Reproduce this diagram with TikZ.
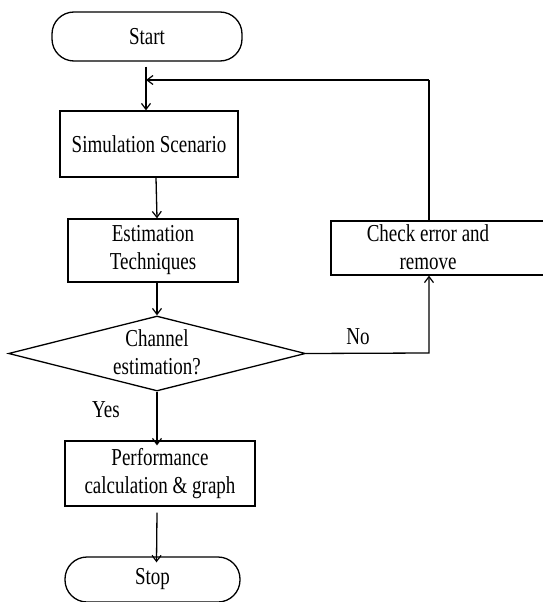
\documentclass[tikz,border=0pt]{standalone}
\usepackage{fontspec}
\setmainfont{Liberation Serif}
\usetikzlibrary{arrows.meta,shapes.geometric}
\newcommand\stt[1]{\scalebox{1}[1.28]{#1}}
\tikzset{
  x=1pt, y=-1pt,
  every node/.style={font=\fontsize{19}{28}\selectfont, align=center, inner sep=0pt},
  boxnode/.style={draw, line width=1.3pt, rectangle},
  term/.style={draw, line width=1.3pt, rectangle, rounded corners=22pt},
  conn/.style={line width=1.3pt, -{Straight Barb[length=6pt,width=9pt,line width=1.2pt]}},
  plain/.style={line width=1.3pt},
}
\begin{document}
\begin{tikzpicture}
\useasboundingbox (0,0) rectangle (543,602);
\node[term, minimum width=190pt, minimum height=49pt] (start) at (147,36.5) {\stt{Start}};
\node[boxnode, minimum width=178pt, minimum height=66pt] (sim) at (149,144) {\stt{Simulation Scenario}};
\node[boxnode, minimum width=170pt, minimum height=63pt] (est) at (153,250.5) {\stt{Estimation}\\\stt{Techniques}};
\node[draw, line width=1.3pt, diamond, aspect=3.96, minimum width=297pt, minimum height=75pt] (dec) at (157,353.5) {};
\node (dectext) at (157,352) {\stt{Channel}\\\stt{estimation?}};
\node[boxnode, minimum width=222pt, minimum height=54pt] (check) at (442,248) {};
\node (checktext) at (428,247) {\stt{Check error and}\\\stt{remove}};
\node[boxnode, minimum width=190pt, minimum height=65pt] (perf) at (160,473.5) {\stt{Performance}\\\stt{calculation \& graph}};
\node[term, minimum width=175pt, minimum height=45pt] (stop) at (152.5,579.5) {\stt{Stop}};
\node (no) at (358,337) {\stt{No}};
\node (yes) at (106,410) {\stt{Yes}};
\coordinate (join) at (146,80);
\coordinate (tr) at (429,80);
\coordinate (br) at (429,353);
% connectors
\draw[conn] ([xshift=-1pt,yshift=-5pt]start.south) -- ([xshift=-3pt]sim.north);
\draw[conn] ([xshift=7pt]sim.south) -- ([xshift=4pt]est.north);
\draw[conn] ([xshift=4pt]est.south) -- (dec.north);
\draw[conn] (dec.south) -- ([xshift=-3pt,yshift=-5pt]perf.north);
\draw[conn] ([xshift=-3pt,yshift=-6pt]perf.south) -- ([xshift=4pt,yshift=-6pt]stop.north);
\draw[conn] (dec.east) -- (br) -- (check.south -| br);
\draw[plain] (check.north -| tr) -- (tr);
\draw[conn] (tr) -- (join);
\end{tikzpicture}
\end{document}
